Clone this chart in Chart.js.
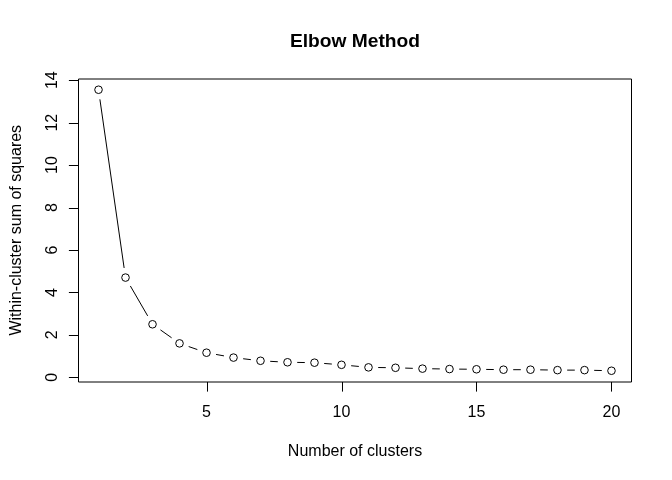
<!DOCTYPE html>
<html>
<head>
<meta charset="utf-8">
<script src="https://cdn.jsdelivr.net/npm/chart.js@4/dist/chart.umd.min.js"></script>
<style>
  html, body { margin: 0; padding: 0; background: #ffffff; }
  #wrap { width: 672px; height: 480px; }
</style>
</head>
<body>
<div id="wrap"><canvas id="c" width="672" height="480"></canvas></div>
<script>
// Number of clusters k and the total within-cluster sum of squares for each k
const clusters = [1, 2, 3, 4, 5, 6, 7, 8, 9, 10, 11, 12, 13, 14, 15, 16, 17, 18, 19, 20];
const wss = [13.55, 4.70, 2.50, 1.60, 1.16, 0.93, 0.78, 0.71, 0.69, 0.59,
             0.47, 0.45, 0.41, 0.39, 0.38, 0.36, 0.36, 0.34, 0.34, 0.31];

// Axis tick marks and their labels
const xTicks = [5, 10, 15, 20];
const xTickLabels = ['5', '10', '15', '20'];
const yTicks = [0, 2, 4, 6, 8, 10, 12, 14];
const yTickLabels = ['0', '2', '4', '6', '8', '10', '12', '14'];

const titleText = 'Elbow Method';
const xTitle = 'Number of clusters';
const yTitle = 'Within-cluster sum of squares';

const FONT = '"Liberation Sans", Arial, Helvetica, sans-serif';

// Pad the data range by 4% on each side, like a classic base-graphics plot
function paddedRange(vals) {
  const lo = Math.min(...vals), hi = Math.max(...vals);
  const pad = (hi - lo) * 0.04;
  return [lo - pad, hi + pad];
}
const [xMin, xMax] = paddedRange(clusters);
const [yMin, yMax] = paddedRange(wss);

// Connecting segments that stop short of each point marker
const gappedLines = {
  id: 'gappedLines',
  beforeDatasetsDraw(chart) {
    const pts = chart.getDatasetMeta(0).data;
    const ctx = chart.ctx;
    const gap = 9.7;
    ctx.save();
    ctx.strokeStyle = '#000';
    ctx.lineWidth = 1;
    ctx.beginPath();
    for (let i = 0; i < pts.length - 1; i++) {
      const a = pts[i], b = pts[i + 1];
      const dx = b.x - a.x, dy = b.y - a.y;
      const len = Math.hypot(dx, dy);
      if (len <= 2 * gap) continue;
      const ux = dx / len, uy = dy / len;
      ctx.moveTo(a.x + ux * gap, a.y + uy * gap);
      ctx.lineTo(b.x - ux * gap, b.y - uy * gap);
    }
    ctx.stroke();
    ctx.restore();
  }
};

// Box, ticks, tick labels and titles
const frame = {
  id: 'frame',
  afterDraw(chart) {
    const ctx = chart.ctx;
    const { left, right, top, bottom } = chart.chartArea;
    const xs = chart.scales.x, ys = chart.scales.y;
    const tickLen = 9.6;
    ctx.save();
    ctx.strokeStyle = '#000';
    ctx.fillStyle = '#000';
    ctx.lineWidth = 1;

    // plot box
    ctx.beginPath();
    ctx.moveTo(left + 0.5, top + 0.5);
    ctx.lineTo(right - 0.5, top + 0.5);
    ctx.lineTo(right - 0.5, bottom);
    ctx.lineTo(left + 0.5, bottom);
    ctx.closePath();
    ctx.stroke();

    // x axis ticks and labels
    ctx.font = '16px ' + FONT;
    ctx.textAlign = 'center';
    ctx.textBaseline = 'alphabetic';
    ctx.beginPath();
    xTicks.forEach((v) => {
      const px = Math.round(xs.getPixelForValue(v)) + 0.5;
      ctx.moveTo(px, bottom);
      ctx.lineTo(px, bottom + tickLen);
    });
    ctx.stroke();
    xTicks.forEach((v, i) => {
      ctx.fillText(xTickLabels[i], xs.getPixelForValue(v), bottom + 35);
    });

    // y axis ticks and labels (rotated, reading upward)
    ctx.beginPath();
    yTicks.forEach((v) => {
      const py = Math.round(ys.getPixelForValue(v)) + 0.5;
      ctx.moveTo(left + 0.5, py);
      ctx.lineTo(left + 0.5 - tickLen, py);
    });
    ctx.stroke();
    yTicks.forEach((v, i) => {
      ctx.save();
      ctx.translate(left - 21.5, ys.getPixelForValue(v));
      ctx.rotate(-Math.PI / 2);
      ctx.fillText(yTickLabels[i], 0, 0);
      ctx.restore();
    });

    // axis titles
    const cx = (left + right) / 2;
    const cy = (top + bottom) / 2;
    ctx.fillText(xTitle, cx, bottom + 74);
    ctx.save();
    ctx.translate(20.5, cy);
    ctx.rotate(-Math.PI / 2);
    ctx.fillText(yTitle, 0, 0);
    ctx.restore();

    // main title
    ctx.font = 'bold 19.2px ' + FONT;
    ctx.fillText(titleText, cx, 47);
    ctx.restore();
  }
};

new Chart(document.getElementById('c'), {
  type: 'line',
  data: {
    datasets: [{
      data: clusters.map((k, i) => ({ x: k, y: wss[i] })),
      showLine: false,
      pointStyle: 'circle',
      pointRadius: 3.8,
      pointBorderWidth: 1,
      pointBorderColor: '#000',
      pointBackgroundColor: 'rgba(0,0,0,0)',
      pointHoverRadius: 3.8
    }]
  },
  options: {
    responsive: false,
    devicePixelRatio: 1,
    animation: false,
    events: [],
    layout: { padding: { left: 78, top: 78.5, right: 40, bottom: 98 } },
    scales: {
      x: { type: 'linear', min: xMin, max: xMax, display: false },
      y: { type: 'linear', min: yMin, max: yMax, display: false }
    },
    plugins: {
      legend: { display: false },
      tooltip: { enabled: false },
      title: { display: false }
    }
  },
  plugins: [gappedLines, frame]
});
</script>
</body>
</html>
